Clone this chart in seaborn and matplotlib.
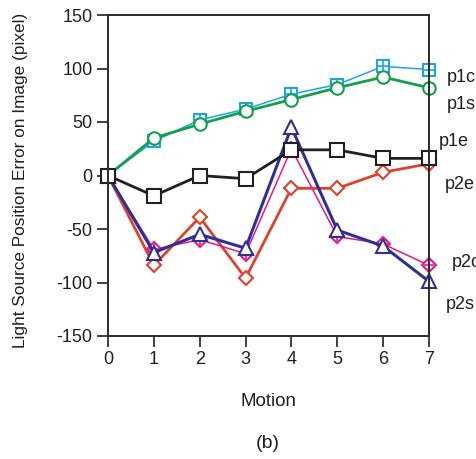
import matplotlib
matplotlib.use("Agg")
import matplotlib.pyplot as plt
import seaborn as sns
import pandas as pd

sns.set_theme(style="ticks")
plt.rcParams["font.family"] = ["Liberation Sans", "DejaVu Sans"]
plt.rcParams["axes.unicode_minus"] = False

motion = [0, 1, 2, 3, 4, 5, 6, 7]
p1c = [0, 32, 52, 62, 76, 85, 102, 99]
p1s = [0, 35, 48, 60, 71, 82, 92, 82]
p1e = [0, -19, 0, -3, 24, 24, 16, 16]
p2e = [0, -84, -39, -96, -12, -12, 3, 11]
p2c = [0, -69, -60, -73, 25, -57, -64, -84]
p2s = [0, -72, -55, -68, 45, -51, -66, -99]

series_names = ["p1c", "p1s", "p1e", "p2e", "p2c", "p2s"]
series_vals = [p1c, p1s, p1e, p2e, p2c, p2s]
df = pd.DataFrame({
    "Motion": motion * len(series_names),
    "Error": sum(series_vals, []),
    "series": sum([[n] * len(motion) for n in series_names], []),
})

styles = {
    # name: (color, linewidth, marker, marker size, overlay marker)
    "p1e": ("#231f20", 2.0, "s", 10.5, None),
    "p1c": ("#1ba6e0", 1.1, "s", 8, "+"),
    "p1s": ("#12a04b", 2.0, "o", 9, None),
    "p2e": ("#e1412b", 2.0, "D", 7, None),
    "p2c": ("#e8168c", 1.1, "D", 7, "+"),
    "p2s": ("#2e3192", 2.2, "^", 10, None),
}
draw_order = ["p1c", "p1s", "p2e", "p2c", "p2s", "p1e"]

fig = plt.figure(figsize=(4.77, 4.59), dpi=100)
ax = fig.add_axes([108 / 477, 1 - 336 / 459, (429 - 108) / 477, (336 - 15) / 459])

for name in draw_order:
    color, lw, mk, ms, overlay = styles[name]
    sub = df[df["series"] == name]
    sns.lineplot(data=sub, x="Motion", y="Error", ax=ax, color=color,
                 linewidth=lw, marker=mk, markersize=ms,
                 markerfacecolor="white", markeredgecolor=color,
                 markeredgewidth=1.5, legend=False)
    if overlay:
        sns.lineplot(data=sub, x="Motion", y="Error", ax=ax, color=color,
                     linestyle="none", marker=overlay, markersize=ms,
                     markeredgecolor=color, markeredgewidth=1.2, legend=False)

ax.set_xlim(0, 7)
ax.set_ylim(-150, 150)
ax.set_xticks(motion)
ax.set_yticks([-150, -100, -50, 0, 50, 100, 150])
ax.tick_params(direction="out", length=8, width=1.2, colors="#231f20",
               labelsize=13, labelcolor="#231f20", pad=3)
for side in ["top", "right", "bottom", "left"]:
    ax.spines[side].set_visible(True)
    ax.spines[side].set_linewidth(1.4)
    ax.spines[side].set_color("#2b2b2b")
ax.tick_params(axis="both", which="both", top=False, right=False)
for ln in ax.lines:
    ln.set_clip_on(False)

ax.set_xlabel("Motion", fontsize=13.5, color="#231f20")
ax.xaxis.set_label_coords(0.5, -(401 - 336) / 321, transform=ax.transAxes)
ax.set_ylabel("Light Source Position Error on Image (pixel)", fontsize=12.4,
              color="#231f20")
ax.yaxis.set_label_coords(-(108 - 20) / 321, 0.486, transform=ax.transAxes)
ax.xaxis.label.set_va("center")
ax.yaxis.label.set_va("center")

labels_pos = {
    "p1c": (7.39, 92),
    "p1s": (7.39, 66),
    "p1e": (7.22, 32),
    "p2e": (7.35, -8),
    "p2c": (7.50, -81),
    "p2s": (7.37, -121),
}
for name, (lx, ly) in labels_pos.items():
    ax.text(lx, ly, name, fontsize=13, color="#231f20", ha="left",
            va="center", clip_on=False)

fig.text(268 / 477, 1 - 443 / 459, "(b)", fontsize=14, color="#231f20",
         ha="center", va="center")

fig.savefig("out.png", dpi=100, facecolor="white")
